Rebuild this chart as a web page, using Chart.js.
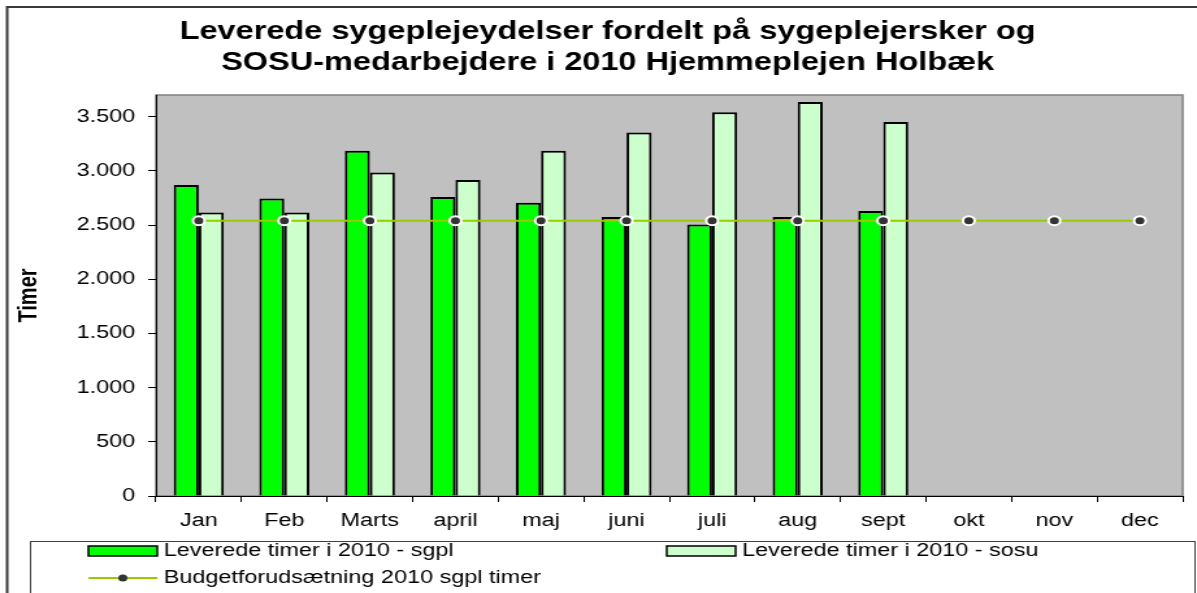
<!DOCTYPE html>
<html>
<head>
<meta charset="utf-8">
<script src="https://cdn.jsdelivr.net/npm/chart.js@4.4.1/dist/chart.umd.min.js"></script>
<style>
  html, body { margin: 0; padding: 0; background: #fff; }
</style>
</head>
<body>
<!-- drawn narrow and widened by css, like the old spreadsheet export -->
<canvas id="myChart" width="921" height="593" style="width:1197px;height:593px;display:block"></canvas>
<script>
const months = ['Jan', 'Feb', 'Marts', 'april', 'maj', 'juni', 'juli', 'aug', 'sept', 'okt', 'nov', 'dec'];
const sgpl = [2870, 2745, 3185, 2760, 2705, 2575, 2505, 2575, 2630, null, null, null];
const sosu = [2615, 2615, 2985, 2915, 3185, 3355, 3540, 3635, 3450, null, null, null];
const budget = [2540, 2540, 2540, 2540, 2540, 2540, 2540, 2540, 2540, 2540, 2540, 2540];
const yTicks = [0, 500, 1000, 1500, 2000, 2500, 3000, 3500];

const titleLines = ['Leverede sygeplejeydelser fordelt på sygeplejersker og',
                    'SOSU-medarbejdere i 2010 Hjemmeplejen Holbæk'];
const labelSgpl = 'Leverede timer i 2010 - sgpl';
const labelSosu = 'Leverede timer i 2010 - sosu';
const labelBudget = 'Budgetforudsætning 2010 sgpl timer';

const FONT = "'Liberation Sans', Arial, sans-serif";
Chart.defaults.font.family = FONT;
Chart.defaults.color = '#000';

// thousands separator with a dot: 3.500
function danish(v) {
  return String(v).replace(/\B(?=(\d{3})+(?!\d))/g, '.');
}

// outer frame and the grey plot area
const frame = {
  id: 'frame',
  beforeDraw(chart) {
    const {ctx, chartArea: a} = chart;
    ctx.save();
    ctx.fillStyle = '#fff';
    ctx.fillRect(0, 0, chart.width, chart.height);
    ctx.strokeStyle = '#3a3a3a';
    ctx.lineWidth = 2;
    ctx.strokeRect(5.5, 7, chart.width + 20, chart.height + 20);
    ctx.fillStyle = '#c0c0c0';
    ctx.fillRect(a.left, a.top, a.right - a.left, a.bottom - a.top);
    ctx.strokeStyle = '#808080';
    ctx.lineWidth = 1.5;
    ctx.strokeRect(a.left, a.top, a.right - a.left, a.bottom - a.top);
    ctx.restore();
  }
};

const heading = {
  id: 'heading',
  afterDraw(chart) {
    const ctx = chart.ctx;
    ctx.save();
    ctx.font = 'bold 25px ' + FONT;
    ctx.fillStyle = '#000';
    ctx.textAlign = 'center';
    ctx.textBaseline = 'middle';
    ctx.fillText(titleLines[0], 467.5, 32);
    ctx.fillText(titleLines[1], 467.5, 63);
    ctx.restore();
  }
};

// legend in a box under the axis, two bar entries on one row, line entry below
const legendBox = {
  id: 'legendBox',
  afterDraw(chart) {
    const ctx = chart.ctx;
    const ds = chart.data.datasets;
    ctx.save();
    ctx.strokeStyle = '#404040';
    ctx.lineWidth = 1;
    ctx.strokeRect(23.5, 541.5, 896, 80);
    ctx.font = '18px ' + FONT;
    ctx.textBaseline = 'middle';

    [[ds[1], 68, 551], [ds[2], 513, 551]].forEach(([d, x, y]) => {
      ctx.fillStyle = d.backgroundColor;
      ctx.fillRect(x, y - 5, 53, 10);
      ctx.strokeStyle = '#000';
      ctx.lineWidth = 1.5;
      ctx.strokeRect(x, y - 5, 53, 10);
      ctx.fillStyle = '#000';
      ctx.fillText(d.label, x + 58, y);
    });

    const line = ds[0];
    ctx.strokeStyle = line.borderColor;
    ctx.lineWidth = line.borderWidth;
    ctx.beginPath();
    ctx.moveTo(68, 578);
    ctx.lineTo(121, 578);
    ctx.stroke();
    ctx.fillStyle = line.pointBackgroundColor;
    ctx.beginPath();
    ctx.arc(94.5, 578, 3.5, 0, Math.PI * 2);
    ctx.fill();
    ctx.fillStyle = '#000';
    ctx.fillText(line.label, 126, 578);
    ctx.restore();
  }
};

const ctx = document.getElementById('myChart');

new Chart(ctx, {
  type: 'bar',
  data: {
    labels: months,
    datasets: [{
      type: 'line',
      label: labelBudget,
      data: budget,
      order: 0,
      borderColor: '#99cc00',
      borderWidth: 2,
      pointRadius: 4.5,
      pointBackgroundColor: '#333333',
      pointBorderColor: '#ffffff',
      pointBorderWidth: 2,
      fill: false
    }, {
      label: labelSgpl,
      data: sgpl,
      order: 1,
      backgroundColor: '#00ff00',
      borderColor: '#000',
      borderWidth: 2,
      barPercentage: 1,
      categoryPercentage: 0.585
    }, {
      label: labelSosu,
      data: sosu,
      order: 2,
      backgroundColor: '#ccffcc',
      borderColor: '#000',
      borderWidth: 2,
      barPercentage: 1,
      categoryPercentage: 0.585
    }]
  },
  options: {
    responsive: false,
    devicePixelRatio: 1,
    animation: false,
    layout: { padding: { left: 8, right: 11, top: 95, bottom: 57 } },
    plugins: {
      legend: { display: false },
      title: { display: false },
      tooltip: { enabled: false }
    },
    scales: {
      x: {
        grid: { drawOnChartArea: false, tickLength: 6, color: '#000', offset: true },
        border: { color: '#000', width: 1 },
        ticks: { color: '#000', font: { size: 18 }, padding: 8, maxRotation: 0, autoSkip: false },
        afterFit(s) { s.height = 40; }
      },
      y: {
        min: 0,
        max: 3700,
        // ticks every 500, the top edge of the plot stays unlabelled
        afterBuildTicks(s) { s.ticks = yTicks.map(v => ({ value: v })); },
        ticks: {
          autoSkip: false,
          color: '#000',
          font: { size: 18 },
          padding: 10,
          callback: v => danish(v)
        },
        grid: { drawOnChartArea: false, tickLength: 6, color: '#000' },
        border: { color: '#000', width: 1 },
        title: {
          display: true,
          text: 'Timer',
          color: '#000',
          font: { size: 20, weight: 'bold' },
          padding: { top: 2, bottom: 0 }
        },
        afterFit(s) { s.width = 112; }
      }
    }
  },
  plugins: [frame, heading, legendBox]
});
</script>
</body>
</html>
